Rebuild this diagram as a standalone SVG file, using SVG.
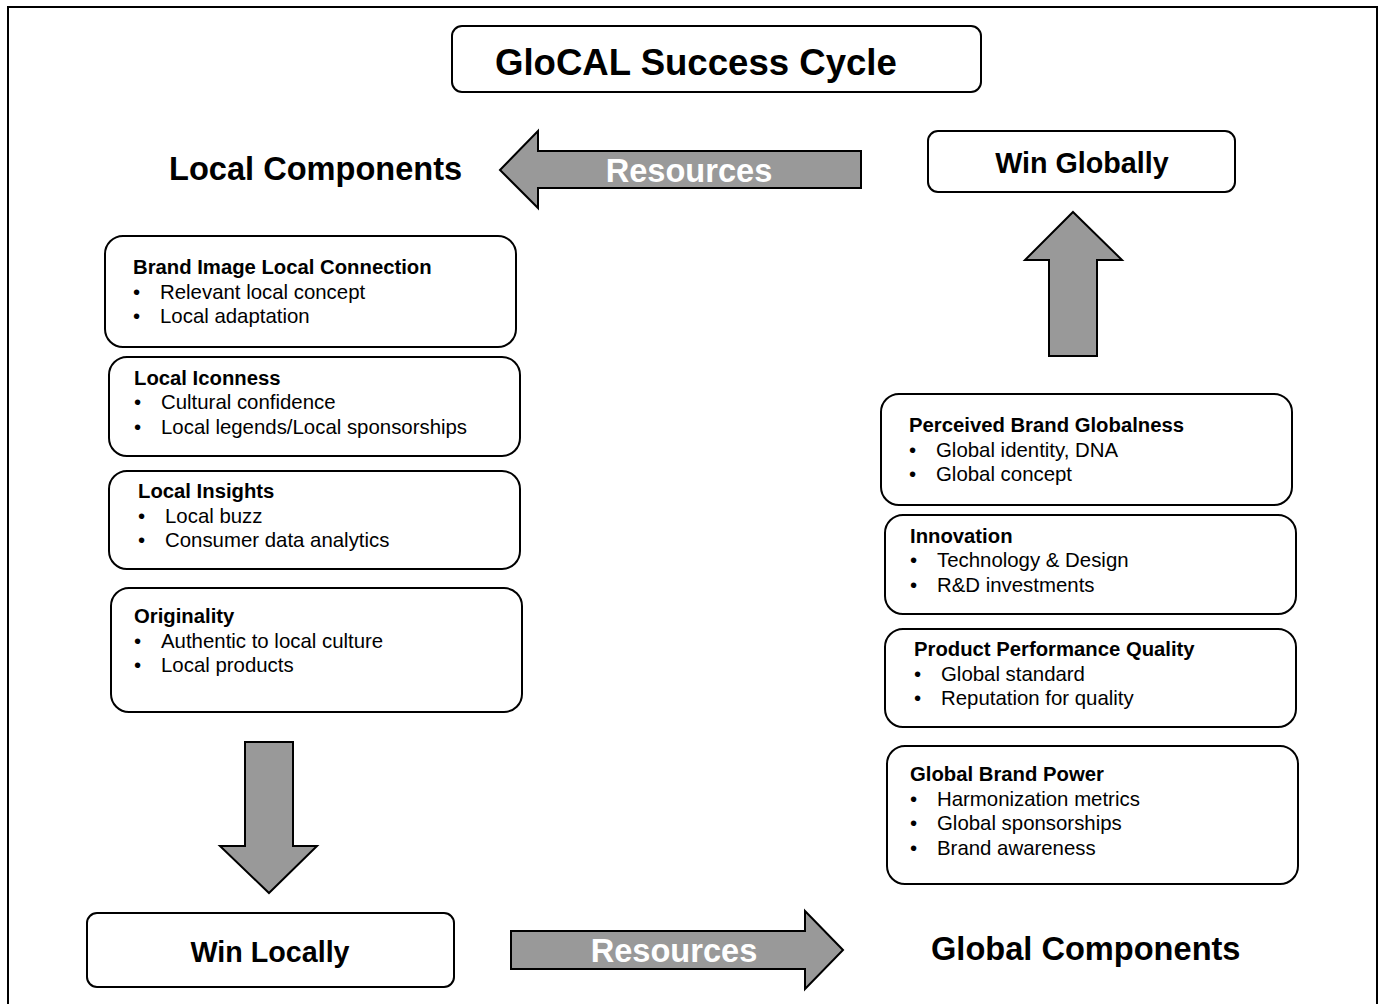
<svg xmlns="http://www.w3.org/2000/svg" width="1379" height="1004" viewBox="0 0 1379 1004">
<style>
.box{fill:#fff;stroke:#000;stroke-width:2}
.arr{fill:#999;stroke:#000;stroke-width:2;stroke-linejoin:miter}
text{font-family:"Liberation Sans",Arial,sans-serif;fill:#000}
.h{font-weight:bold;font-size:20.3px}
.b{font-size:20.4px}
.big{font-weight:bold;font-size:32.6px}
.res{font-weight:bold;font-size:32.6px;fill:#fff}
</style>
<rect x="8" y="7" width="1369" height="1010" fill="#fff" stroke="#000" stroke-width="2"/>
<g id="title"><rect class="box" x="452" y="26" width="529" height="66" rx="10"/><text x="495" y="75" style="font-weight:bold;font-size:36.6px">GloCAL Success Cycle</text></g>
<g id="local-components"><text class="big" x="169" y="180">Local Components</text></g>
<g id="global-components"><text class="big" x="931" y="960">Global Components</text></g>
<g id="win-globally"><rect class="box" x="928" y="131" width="307" height="61" rx="10"/><text x="1082" y="173" text-anchor="middle" style="font-weight:bold;font-size:28.7px">Win Globally</text></g>
<g id="win-locally"><rect class="box" x="87" y="913" width="367" height="74" rx="10"/><text x="270" y="962" text-anchor="middle" style="font-weight:bold;font-size:28.7px">Win Locally</text></g>
<g id="l1"><rect class="box" x="105" y="236" width="411" height="111" rx="18"/><text class="h" x="133" y="274">Brand Image Local Connection</text><text class="b" x="133" y="299">•<tspan x="160">Relevant local concept</tspan></text><text class="b" x="133" y="323">•<tspan x="160">Local adaptation</tspan></text></g>
<g id="l2"><rect class="box" x="109" y="357" width="411" height="99" rx="18"/><text class="h" x="134" y="385">Local Iconness</text><text class="b" x="134" y="409">•<tspan x="161">Cultural confidence</tspan></text><text class="b" x="134" y="434">•<tspan x="161">Local legends/Local sponsorships</tspan></text></g>
<g id="l3"><rect class="box" x="109" y="471" width="411" height="98" rx="18"/><text class="h" x="138" y="498">Local Insights</text><text class="b" x="138" y="523">•<tspan x="165">Local buzz</tspan></text><text class="b" x="138" y="547">•<tspan x="165">Consumer data analytics</tspan></text></g>
<g id="l4"><rect class="box" x="111" y="588" width="411" height="124" rx="18"/><text class="h" x="134" y="623">Originality</text><text class="b" x="134" y="648">•<tspan x="161">Authentic to local culture</tspan></text><text class="b" x="134" y="672">•<tspan x="161">Local products</tspan></text></g>
<g id="r1"><rect class="box" x="881" y="394" width="411" height="111" rx="18"/><text class="h" x="909" y="432">Perceived Brand Globalness</text><text class="b" x="909" y="457">•<tspan x="936">Global identity, DNA</tspan></text><text class="b" x="909" y="481">•<tspan x="936">Global concept</tspan></text></g>
<g id="r2"><rect class="box" x="885" y="515" width="411" height="99" rx="18"/><text class="h" x="910" y="543">Innovation</text><text class="b" x="910" y="567">•<tspan x="937">Technology &amp; Design</tspan></text><text class="b" x="910" y="592">•<tspan x="937">R&amp;D investments</tspan></text></g>
<g id="r3"><rect class="box" x="885" y="629" width="411" height="98" rx="18"/><text class="h" x="914" y="656">Product Performance Quality</text><text class="b" x="914" y="681">•<tspan x="941">Global standard</tspan></text><text class="b" x="914" y="705">•<tspan x="941">Reputation for quality</tspan></text></g>
<g id="r4"><rect class="box" x="887" y="746" width="411" height="138" rx="18"/><text class="h" x="910" y="781">Global Brand Power</text><text class="b" x="910" y="806">•<tspan x="937">Harmonization metrics</tspan></text><text class="b" x="910" y="830">•<tspan x="937">Global sponsorships</tspan></text><text class="b" x="910" y="855">•<tspan x="937">Brand awareness</tspan></text></g>
<g id="connectors">
<path class="arr" d="M500,170 L538,131 L538,151 L861,151 L861,188 L538,188 L538,208 Z"/>
<text class="res" x="689" y="182" text-anchor="middle">Resources</text>
<path class="arr" d="M1073,212 L1122,260 L1097,260 L1097,356 L1049,356 L1049,260 L1025,260 Z"/>
<path class="arr" d="M269,893 L317,846 L293,846 L293,742 L245,742 L245,846 L220,846 Z"/>
<path class="arr" d="M843,950 L805,911 L805,931 L511,931 L511,969 L805,969 L805,989 Z"/>
<text class="res" x="674" y="962" text-anchor="middle">Resources</text>
</g>
</svg>
